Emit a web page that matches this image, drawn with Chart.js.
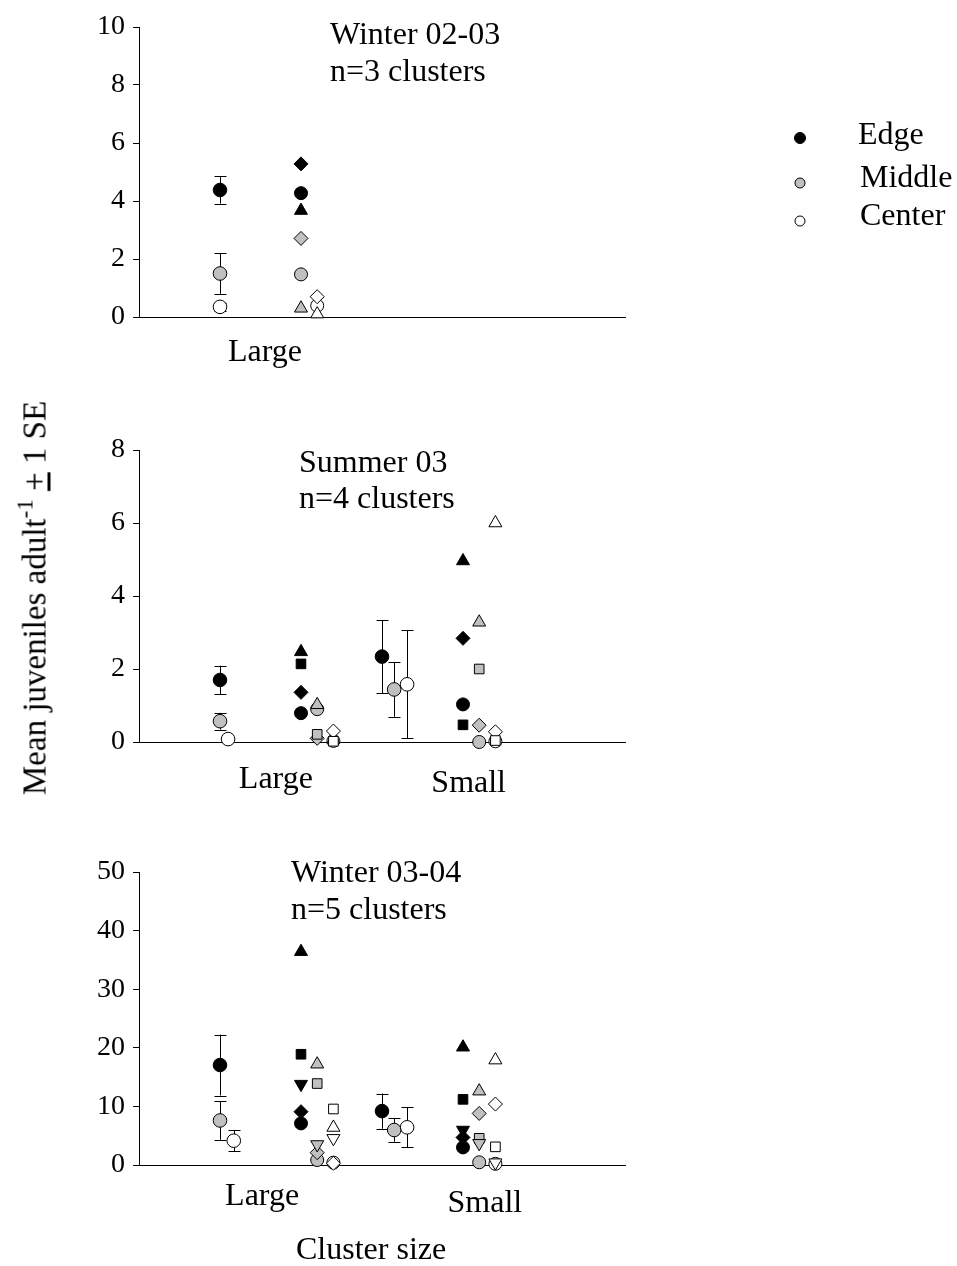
<!DOCTYPE html>
<html>
<head>
<meta charset="utf-8">
<script src="https://cdn.jsdelivr.net/npm/chart.js@4.4.0/dist/chart.umd.min.js"></script>
<style>
  html, body { margin: 0; padding: 0; background: #fff; }
  body { width: 957px; height: 1266px; position: relative; overflow: hidden;
         font-family: "Liberation Serif", "Times New Roman", serif; color: #000; }
  canvas { position: absolute; left: 0; }
  #ylab { position: absolute; left: 35px; top: 598px; white-space: nowrap;
          transform: translate(-50%, -50%) rotate(-90deg); font-size: 33px; line-height: 1; }
  #ylab sup { font-size: 23px; vertical-align: 0; position: relative; top: -13px; }
</style>
</head>
<body>
<canvas id="c1" width="957" height="400" style="top:0px"></canvas>
<canvas id="c2" width="957" height="420" style="top:400px"></canvas>
<canvas id="c3" width="957" height="446" style="top:820px"></canvas>
<div id="ylab">Mean juveniles adult<sup>-1</sup> <u>+</u> 1 SE</div>

<script>
// ---- data -------------------------------------------------------------
// Individual cluster values, in cluster order: circle, triangle, diamond, square, inverted triangle
const groups = ['Edge', 'Middle', 'Center'];
const sizeLabels = ['Large', 'Small'];

// Winter 02-03 (large clusters)
const w0203Ticks = [0, 2, 4, 6, 8, 10];
const w0203LargeEdge   = [4.27, 3.67, 5.28];
const w0203LargeMiddle = [1.47, 0.30, 2.71];
const w0203LargeCenter = [0.39, 0.10, 0.70];
const w0203LargeMean   = [4.38, 1.50, 0.35];
const w0203LargeSE     = [0.47, 0.70, 0.14];

// Summer 03
const s03Ticks = [0, 2, 4, 6, 8];
const s03LargeEdge   = [0.79, 2.47, 1.36, 2.14];
const s03LargeMiddle = [0.90, 1.02, 0.10, 0.21];
const s03LargeCenter = [0.03, 0.07, 0.30, 0.02];
const s03LargeMean   = [1.70, 0.57, 0.08];
const s03LargeSE     = [0.39, 0.23, 0.03];
const s03SmallEdge   = [1.03, 4.96, 2.84, 0.47];
const s03SmallMiddle = [0.00, 3.28, 0.46, 2.00];
const s03SmallCenter = [0.02, 6.00, 0.28, 0.04];
const s03SmallMean   = [2.34, 1.44, 1.58];
const s03SmallSE     = [1.00, 0.75, 1.48];

// Winter 03-04
const w0304Ticks = [0, 10, 20, 30, 40, 50];
const w0304LargeEdge   = [7.1, 36.4, 9.1, 18.9, 13.8];
const w0304LargeMiddle = [0.85, 17.2, 2.1, 13.9, 3.5];
const w0304LargeCenter = [0.4, 6.4, 0.3, 9.56, 4.55];
const w0304LargeMean   = [17.06, 7.6, 4.15];
const w0304LargeSE     = [5.2, 3.3, 1.8];
const w0304SmallEdge   = [3.0, 20.1, 4.7, 11.2, 5.97];
const w0304SmallMiddle = [0.46, 12.6, 8.8, 4.55, 3.7];
const w0304SmallCenter = [0.2, 17.9, 10.4, 3.1, 0.4];
const w0304SmallMean   = [9.2, 5.97, 6.43];
const w0304SmallSE     = [3.0, 2.0, 3.4];

// ---- styling ----------------------------------------------------------
const FONT = '"Liberation Serif", "Times New Roman", serif';
Chart.defaults.font.family = FONT;
Chart.defaults.color = '#000';

const FILLS = ['#000000', '#c0c0c0', '#ffffff'];
const SHAPES = ['circle', 'triangle', 'rectRot', 'rect', 'triangle'];
const ROTATIONS = [0, 0, 0, 0, 180];
const SHAPE_RADII = [6.5, 7.5, 7, 6.8, 7.5];
const MEAN_RADIUS = 6.8;
const AXIS_LEFT = 139;    // pixel x of the y axis
const AXIS_RIGHT = 625;   // pixel x where the x axis ends

function individualSet(values, x, fill) {
  const n = values.length;
  return {
    data: values.map(v => ({ x: x, y: v })),
    pointStyle: SHAPES.slice(0, n),
    rotation: ROTATIONS.slice(0, n),
    pointRadius: SHAPE_RADII.slice(0, n),
    pointBackgroundColor: fill,
    pointBorderColor: '#000',
    pointBorderWidth: 1,
    showLine: false,
    clip: false
  };
}

function meanSet(value, x, fill) {
  return {
    data: [{ x: x, y: value }],
    pointStyle: 'circle',
    pointRadius: MEAN_RADIUS,
    pointBackgroundColor: fill,
    pointBorderColor: '#000',
    pointBorderWidth: 1,
    showLine: false,
    clip: false
  };
}

// error bars (mean +/- 1 SE) drawn under the markers, plus the short
// stub of the x axis that pokes out left of the y axis
const errorBarPlugin = {
  id: 'errorBars',
  beforeDatasetsDraw(chart, args, opts) {
    const { ctx, chartArea, scales: { x, y } } = chart;
    ctx.save();
    ctx.strokeStyle = '#000';
    ctx.lineWidth = 1;
    ctx.beginPath();
    const by = Math.round(chartArea.bottom) + 0.5;
    ctx.moveTo(chartArea.left - 5, by); ctx.lineTo(chartArea.left, by);
    ctx.stroke();
    (opts.bars || []).forEach(b => {
      const px = Math.round(x.getPixelForValue(b.x)) + 0.5;
      const top = y.getPixelForValue(b.y + b.se);
      const bot = y.getPixelForValue(Math.max(0, b.y - b.se));
      ctx.beginPath();
      ctx.moveTo(px, top); ctx.lineTo(px, bot);
      ctx.moveTo(px - 6, Math.round(top) + 0.5); ctx.lineTo(px + 6, Math.round(top) + 0.5);
      ctx.moveTo(px - 6, Math.round(bot) + 0.5); ctx.lineTo(px + 6, Math.round(bot) + 0.5);
      ctx.stroke();
    });
    ctx.restore();
  }
};

// titles, category names and other free text
const textPlugin = {
  id: 'panelText',
  afterDraw(chart, args, opts) {
    const { ctx, scales: { x } } = chart;
    ctx.save();
    ctx.fillStyle = '#000';
    ctx.textBaseline = 'middle';
    (opts.titles || []).forEach(t => {
      ctx.font = t.size + 'px ' + FONT;
      ctx.textAlign = 'left';
      ctx.fillText(t.text, t.px, t.py);
    });
    (opts.categories || []).forEach(c => {
      ctx.font = c.size + 'px ' + FONT;
      ctx.textAlign = 'center';
      ctx.fillText(c.text, x.getPixelForValue(c.x), c.py);
    });
    (opts.legend || []).forEach(l => {
      ctx.beginPath();
      ctx.arc(l.mx, l.my, l.r, 0, Math.PI * 2);
      ctx.fillStyle = l.fill;
      ctx.fill();
      ctx.strokeStyle = '#000';
      ctx.lineWidth = 1;
      ctx.stroke();
      ctx.fillStyle = '#000';
      ctx.font = l.size + 'px ' + FONT;
      ctx.textAlign = 'left';
      ctx.fillText(l.text, l.tx, l.ty);
    });
    ctx.restore();
  }
};

function buildPanel(canvasId, p) {
  const datasets = [];
  const bars = [];
  p.sides.forEach(s => {
    s.means.forEach((m, g) => {
      const mx = s.base + s.meanOffsets[g];
      bars.push({ x: mx, y: m, se: s.se[g] });
      datasets.push(meanSet(m, mx, FILLS[g]));
    });
    s.indiv.forEach((vals, g) => {
      datasets.push(individualSet(vals, s.base + 1 + s.indivOffsets[g], FILLS[g]));
    });
  });

  return new Chart(document.getElementById(canvasId), {
    type: 'scatter',
    data: { datasets },
    plugins: [errorBarPlugin, textPlugin],
    options: {
      responsive: false,
      animation: false,
      events: [],
      layout: { padding: { left: 0, right: 957 - AXIS_RIGHT, top: p.padTop, bottom: p.padBottom } },
      plugins: {
        legend: { display: false },
        tooltip: { enabled: false },
        errorBars: { bars },
        panelText: { titles: p.titles, categories: p.categories, legend: p.legend || [] }
      },
      scales: {
        x: {
          type: 'linear', min: 0, max: 6,
          ticks: { display: false },
          grid: { display: true, drawOnChartArea: false, drawTicks: false },
          border: { display: true, color: '#000', width: 1 },
          afterFit(scale) { scale.height = 0; }
        },
        y: {
          type: 'linear', min: 0, max: p.ticks[p.ticks.length - 1],
          afterBuildTicks(scale) { scale.ticks = p.ticks.map(v => ({ value: v })); },
          ticks: { font: { size: 28, family: FONT }, color: '#000', padding: 8 },
          grid: { display: true, drawOnChartArea: false, drawTicks: true, tickLength: 6, color: '#000' },
          border: { display: true, color: '#000', width: 1 },
          afterFit(scale) { scale.width = AXIS_LEFT; }
        }
      }
    }
  });
}

const TITLE = 32;
const LABEL = 32;

buildPanel('c1', {
  ticks: w0203Ticks,
  padTop: 27, padBottom: 400 - 317,
  sides: [{
    base: 1,
    means: w0203LargeMean, se: w0203LargeSE,
    meanOffsets: [0, 0, 0],
    indiv: [w0203LargeEdge, w0203LargeMiddle, w0203LargeCenter],
    indivOffsets: [0, 0, 0.2]
  }],
  titles: [
    { text: 'Winter 02-03', px: 330, py: 36, size: TITLE },
    { text: 'n=3 clusters', px: 330, py: 73, size: TITLE }
  ],
  categories: [{ text: sizeLabels[0], x: 1.556, py: 353, size: LABEL }],
  legend: [
    { text: groups[0], mx: 800, my: 138, r: 5.5, fill: FILLS[0], tx: 858, ty: 136, size: LABEL },
    { text: groups[1], mx: 800, my: 183, r: 5, fill: FILLS[1], tx: 860, ty: 179, size: LABEL },
    { text: groups[2], mx: 800, my: 221, r: 5, fill: FILLS[2], tx: 860, ty: 217, size: LABEL }
  ]
});

buildPanel('c2', {
  ticks: s03Ticks,
  padTop: 50, padBottom: 420 - 342,
  sides: [{
    base: 1,
    means: s03LargeMean, se: s03LargeSE,
    meanOffsets: [0, 0, 0.1],
    indiv: [s03LargeEdge, s03LargeMiddle, s03LargeCenter],
    indivOffsets: [0, 0.2, 0.4]
  }, {
    base: 3,
    means: s03SmallMean, se: s03SmallSE,
    meanOffsets: [0, 0.15, 0.31],
    indiv: [s03SmallEdge, s03SmallMiddle, s03SmallCenter],
    indivOffsets: [0, 0.2, 0.4]
  }],
  titles: [
    { text: 'Summer 03', px: 299, py: 64, size: TITLE },
    { text: 'n=4 clusters', px: 299, py: 100, size: TITLE }
  ],
  categories: [
    { text: sizeLabels[0], x: 1.69, py: 380, size: LABEL },
    { text: sizeLabels[1], x: 4.07, py: 384, size: LABEL }
  ]
});

buildPanel('c3', {
  ticks: w0304Ticks,
  padTop: 52, padBottom: 446 - 345,
  sides: [{
    base: 1,
    means: w0304LargeMean, se: w0304LargeSE,
    meanOffsets: [0, 0, 0.17],
    indiv: [w0304LargeEdge, w0304LargeMiddle, w0304LargeCenter],
    indivOffsets: [0, 0.2, 0.4]
  }, {
    base: 3,
    means: w0304SmallMean, se: w0304SmallSE,
    meanOffsets: [0, 0.15, 0.31],
    indiv: [w0304SmallEdge, w0304SmallMiddle, w0304SmallCenter],
    indivOffsets: [0, 0.2, 0.4]
  }],
  titles: [
    { text: 'Winter 03-04', px: 291, py: 54, size: TITLE },
    { text: 'n=5 clusters', px: 291, py: 91, size: TITLE },
    { text: 'Cluster size', px: 296, py: 431, size: LABEL }
  ],
  categories: [
    { text: sizeLabels[0], x: 1.52, py: 377, size: LABEL },
    { text: sizeLabels[1], x: 4.27, py: 384, size: LABEL }
  ]
});
</script>
</body>
</html>
